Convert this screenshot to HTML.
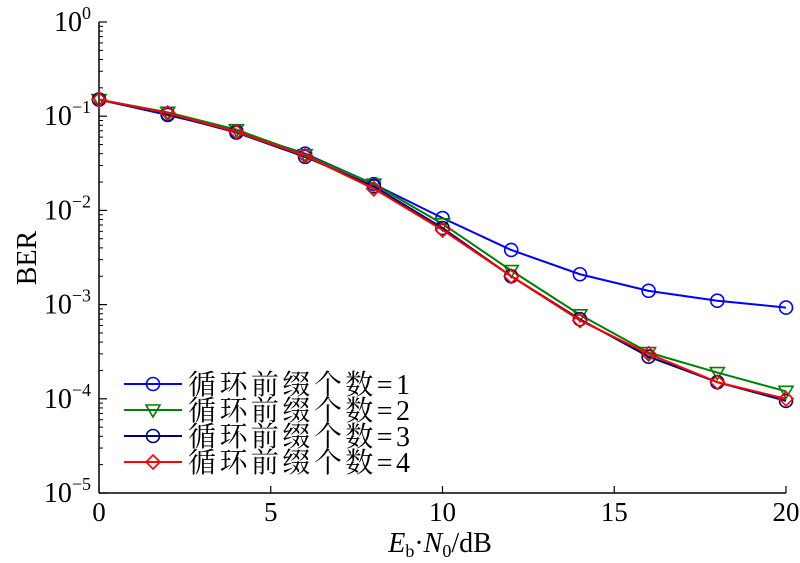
<!DOCTYPE html>
<html><head><meta charset="utf-8"><style>
body{margin:0;background:#fff}
svg text{font-family:"Liberation Serif","Noto Serif CJK SC",serif;fill:#000}
</style></head><body>
<svg id="c" width="800" height="558"></svg>
<script>
const xs=[0,2,4,6,8,10,12,14,16,18,20];
const s1=[0.15,0.103,0.069,0.040,0.019,0.0083,0.0038,0.0021,0.0014,0.0011,0.00093];
const s2=[0.15,0.11,0.072,0.039,0.019,0.0072,0.0023,0.00078,0.00031,0.00019,0.00012];
const s3=[0.15,0.105,0.067,0.037,0.018,0.0065,0.0020,0.00070,0.00028,0.00015,0.000095];
const s4=[0.15,0.108,0.068,0.038,0.017,0.0062,0.0020,0.00068,0.00030,0.00015,0.00010];
const xTicks=[0,5,10,15,20];
const yExps=[0,-1,-2,-3,-4,-5];
const legendLabels=["循环前缀个数=1","循环前缀个数=2","循环前缀个数=3","循环前缀个数=4"];
const NS="http://www.w3.org/2000/svg",svg=document.getElementById('c');
const X0=99,X1=786,Y0=22,DEC=94.2;
const xp=v=>X0+(v-0)/20*(X1-X0);
const yp=v=>Y0-Math.log10(v)*DEC;
function mk(t,a,p){const e=document.createElementNS(NS,t);for(const k in a)e.setAttribute(k,a[k]);(p||svg).appendChild(e);return e;}
const YB=yp(1e-5);
let ax=mk('line',{x1:X0,y1:Y0,x2:X0,y2:YB,stroke:'#000','stroke-width':1.5});

let bx=mk('line',{x1:X0,y1:YB,x2:X1,y2:YB,stroke:'#000','stroke-width':1.5});

xTicks.forEach(v=>{const x=xp(v);
 mk('line',{x1:x,y1:YB,x2:x,y2:YB-7,stroke:'#000','stroke-width':1.2});
 const t=mk('text',{x:x,y:YB+28,'text-anchor':'middle','font-size':27});t.textContent=v;
 });
yExps.forEach(e=>{const y=yp(Math.pow(10,e));
 mk('line',{x1:X0,y1:y,x2:X0+8,y2:y,stroke:'#000','stroke-width':1.2});
 const t=mk('text',{x:X0-8,y:y+9,'text-anchor':'end','font-size':28});
 t.innerHTML='10<tspan dy="-12" font-size="18">'+(e===0?'0':'−'+(-e))+'</tspan>';
 
 if(e>-5)for(let m=2;m<=9;m++){const yy=yp(m*Math.pow(10,e-1));mk('line',{x1:X0,y1:yy,x2:X0+4,y2:yy,stroke:'#000','stroke-width':1});}});
let yt=mk('text',{x:0,y:0,transform:'translate(36,258) rotate(-90)','text-anchor':'middle','font-size':28});yt.textContent='BER';

let xt=mk('text',{x:440,y:552,'text-anchor':'middle','font-size':28});
xt.innerHTML='<tspan font-style="italic">E</tspan><tspan dy="5" font-size="18">b</tspan><tspan dy="-5">·</tspan><tspan font-style="italic">N</tspan><tspan dy="5" font-size="18">0</tspan><tspan dy="-5">/dB</tspan>';

function marker(g,type,x,y,c){
 if(type==='o')mk('circle',{cx:x,cy:y,r:6.5,fill:'none',stroke:c,'stroke-width':1.6},g);
 else if(type==='v')mk('polygon',{points:`${x-7},${y-5} ${x+7},${y-5} ${x},${y+7}`,fill:'none',stroke:c,'stroke-width':1.6},g);
 else mk('polygon',{points:`${x},${y-7} ${x+7},${y} ${x},${y+7} ${x-7},${y}`,fill:'none',stroke:c,'stroke-width':1.6},g);}
const series=[[s1,'#0000ff','o'],[s2,'#008000','v'],[s3,'#000080','o'],[s4,'#ff0000','d']];
series.forEach(([d,c,m],i)=>{const g=mk('g',{});
 
 mk('polyline',{points:d.map((v,j)=>xp(xs[j])+','+yp(v)).join(' '),fill:'none',stroke:c,'stroke-width':2},g);
 d.forEach((v,j)=>marker(g,m,xp(xs[j]),yp(v),c));
 const ly=384+i*26,lg=mk('g',{});
 
 mk('line',{x1:124,y1:ly,x2:182,y2:ly,stroke:c,'stroke-width':2},lg);marker(lg,m,153,ly,c);
 const t=mk('text',{x:188,y:ly+10,'font-size':28,textLength:222,lengthAdjust:'spacing'},lg);t.textContent=legendLabels[i];});
</script></body></html>
